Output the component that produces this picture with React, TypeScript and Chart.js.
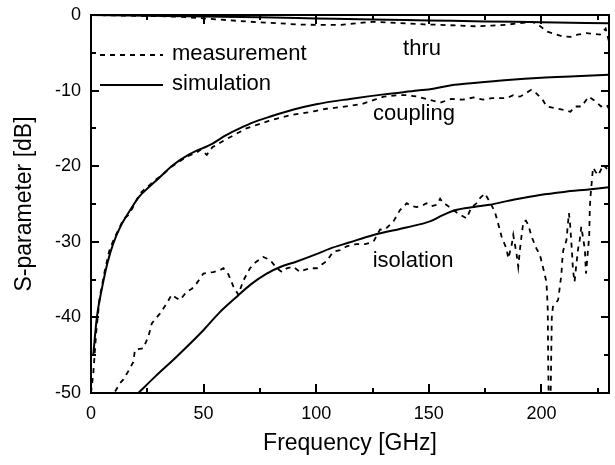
import React, { useEffect, useRef } from 'react';
import { Chart, registerables } from 'chart.js';

Chart.register(...registerables);

const FONT = '"Liberation Sans", Arial, Helvetica, sans-serif';

// ---- data (frequency in GHz, S-parameter in dB) ----
const thruSimFreq = [0, 25, 50, 75, 100, 125, 150, 175, 200, 230];
const thruSimDb = [0, -0.1, -0.2, -0.3, -0.45, -0.6, -0.72, -0.85, -0.95, -1.1];

const thruMeasFreq = [0, 10, 20, 30, 40, 50, 57, 66, 74, 84, 91, 100, 111, 118, 125, 132, 140, 148, 155, 163, 172, 178, 184, 190, 196, 199.5, 202.5, 206, 209, 213, 216, 220, 223, 226, 228.5, 230];
const thruMeasDb = [0, -0.05, -0.1, -0.15, -0.25, -0.45, -0.6, -0.8, -0.95, -1.1, -1.25, -1.3, -1.3, -1.1, -0.9, -1.0, -1.1, -1.25, -1.3, -1.4, -1.5, -1.4, -1.3, -1.1, -0.9, -1.5, -2.2, -2.5, -2.8, -2.9, -2.6, -2.4, -2.5, -2.6, -1.8, -3.5];

const couplingSimFreq = [1, 2.6, 4.7, 7.3, 9.9, 13.4, 17.4, 21.5, 24.5, 28.6, 36.6, 43.8, 54, 60, 66, 72, 80, 90, 100, 115, 130, 145, 152, 160, 170, 185, 200, 215, 230];
const couplingSimDb = [-45, -40, -36.4, -32.8, -30.2, -27.8, -25.8, -24, -23.1, -22, -19.8, -18.4, -17, -15.9, -15.0, -14.2, -13.4, -12.5, -11.8, -11.1, -10.5, -10.0, -9.75, -9.3, -9.0, -8.6, -8.3, -8.1, -7.9];

const couplingMeasFreq = [0, 1, 2.3, 3.8, 6.2, 8.3, 10.4, 12.4, 14.4, 16.4, 18.5, 20.5, 22.5, 25.6, 28.6, 31.6, 34.7, 38.7, 42.8, 46.8, 48.8, 51.4, 53.9, 59, 64, 69, 74, 79, 84, 89, 94, 99.5, 104.5, 110.6, 120, 126, 130, 137, 140, 145, 150, 155, 160, 165, 170, 174, 178, 184.5, 187.5, 190.5, 195.5, 197.5, 200.5, 202.3, 205.8, 210.8, 212.9, 214.8, 217.8, 221, 223, 225, 226.5, 229, 230];
const couplingMeasDb = [-50, -47.5, -42, -37.5, -33.7, -31, -29.5, -28.3, -27, -26.5, -25.5, -24.3, -23.4, -22.6, -21.8, -21.2, -20.3, -19.5, -18.7, -18.2, -17.8, -18.5, -17.5, -16.6, -15.8, -15.0, -14.5, -14.0, -13.6, -13.2, -13.0, -12.7, -12.4, -12.2, -11.8, -11.2, -10.8, -10.6, -10.6, -10.8, -11.2, -11.6, -11.1, -11.2, -10.9, -11.2, -11.0, -11.0, -10.6, -10.8, -9.9, -10.3, -11.2, -12.1, -12.3, -12.6, -12.8, -12.1, -12.1, -10.8, -11.2, -11.7, -12.1, -11.9, -12.4];

const isolationSimFreq = [21, 28.6, 38, 49.9, 56.9, 64.6, 71.1, 78, 84.3, 91.4, 99.5, 106.1, 114.6, 125.4, 140, 150.5, 156, 162, 170, 177, 188, 199.4, 210, 220, 230];
const isolationSimDb = [-50, -47.8, -45.2, -41.7, -39.4, -37.3, -35.6, -34.2, -33.3, -32.6, -31.7, -30.9, -30.1, -29.1, -28.1, -27.3, -26.5, -25.8, -25.4, -25.1, -24.4, -23.8, -23.4, -23.1, -22.8];

const isolationMeasFreq = [10.7, 12.9, 14.4, 16.4, 18.8, 19.5, 21, 23.2, 25.5, 27, 28.6, 30.6, 33.7, 35.8, 37.7, 39.5, 42.5, 44.8, 46.9, 49.9, 51.9, 54.3, 56.9, 58.8, 61, 63.2, 65.4, 67.7, 70.6, 73.1, 76.5, 79.5, 82.5, 84.8, 86.9, 89.8, 92.8, 94.9, 97.2, 100.3, 102.5, 104.5, 107.6, 110.6, 113.6, 117.7, 121.7, 125.4, 128.3, 130.8, 134.3, 137.2, 140.2, 142.5, 144.6, 147, 149, 151.2, 153.5, 155, 156.6, 157.8, 160.9, 163.2, 166.8, 168.8, 171.2, 172.8, 174.9, 176.8, 179.3, 180.8, 182.3, 183.5, 184.5, 185.3, 186.8, 187.5, 189, 189.7, 190.5, 191.3, 192, 193.1, 194.2, 195.6, 197.8, 199.3, 200.8, 202.2, 202.5, 202.8, 202.9, 203, 203.2, 203.6, 204.1, 204.4, 204.6, 205.1, 207.4, 208.2, 208.9, 209.2, 209.7, 211.1, 212.2, 212.7, 213.5, 214, 214.7, 215.5, 216.3, 217, 217.7, 218.5, 219.3, 219.8, 220.5, 221.2, 221.5, 221.9, 222.9, 224.2, 225.2, 226.4, 227.4, 229, 230];
const isolationMeasDb = [-49.8, -48.7, -48.2, -47.2, -45.9, -44.3, -44.2, -44.1, -42.5, -40.8, -40.2, -39.5, -38.1, -37, -37.4, -37.7, -36.6, -36.2, -35.5, -34.2, -34.1, -34, -33.8, -33.5, -34.3, -35.9, -37, -35.1, -33.5, -32.7, -32, -32.4, -33.5, -34, -33.5, -33.3, -34, -33.7, -33.5, -33.5, -33, -32.6, -31.3, -31.1, -30.6, -30.3, -30.3, -30, -28.4, -28.3, -27.3, -25.8, -24.9, -25.3, -25.4, -25.2, -24.9, -25.3, -25.1, -24.3, -25, -25.1, -25.8, -26.3, -26.9, -25.5, -24.9, -24.2, -23.6, -24.6, -26, -27.6, -29.3, -30.2, -30.9, -32.2, -30.4, -29.1, -31.7, -33.3, -30.9, -28.9, -27.3, -27.2, -27.8, -29.3, -30.9, -31.7, -33.5, -35.3, -36.8, -39, -42, -46, -50, -52, -50, -44, -40, -38.6, -37.7, -35.9, -34.2, -32.6, -31.1, -29.8, -26.2, -27.6, -31, -33.7, -35.3, -33, -30.9, -29.8, -28, -29.5, -31.1, -34.2, -31.7, -29.3, -25.4, -23.6, -20.2, -20.8, -21.2, -20.5, -19.8, -20.3, -20.5];

// ---- axes / labels ----
const xMajorTicks = [0, 50, 100, 150, 200];
const xMinorTicks = [25, 75, 125, 175, 225];
const yMajorTicks = [0, -10, -20, -30, -40, -50];
const yMinorTicks = [-5, -15, -25, -35, -45];
const xTitle = 'Frequency [GHz]';
const yTitle = 'S-parameter [dB]';
const legendLabels = ['measurement', 'simulation'];
const curveLabels = ['thru', 'coupling', 'isolation'];
const curveLabelFreq = [147, 143.4, 143];
const curveLabelDb = [-5.3, -13.9, -33.3];

const DASH = [5, 5];

function pts(f: number[], d: number[]) {
  return f.map((x, i) => ({ x, y: d[i] }));
}

const decorPlugin = {
  id: 'decor',
  afterDraw(chart: any) {
    const { ctx, chartArea: a, scales } = chart;
    const x = scales.x;
    const y = scales.y;
    ctx.save();
    ctx.fillStyle = '#000';
    ctx.strokeStyle = '#000';
    // curve labels
    ctx.font = `22px ${FONT}`;
    ctx.textAlign = 'center';
    ctx.textBaseline = 'alphabetic';
    curveLabels.forEach((t, i) => {
      ctx.fillText(t, x.getPixelForValue(curveLabelFreq[i]), y.getPixelForValue(curveLabelDb[i]));
    });
    // legend
    const lx0 = a.left + 9;
    const lx1 = a.left + 72;
    const rows = [a.top + 40, a.top + 70];
    ctx.lineWidth = 1.8;
    rows.forEach((ry, i) => {
      ctx.setLineDash(i === 0 ? DASH : []);
      ctx.beginPath();
      ctx.moveTo(lx0, ry);
      ctx.lineTo(lx1, ry);
      ctx.stroke();
    });
    ctx.setLineDash([]);
    ctx.textAlign = 'left';
    ctx.textBaseline = 'middle';
    legendLabels.forEach((t, i) => {
      ctx.fillText(t, lx1 + 9, rows[i] - 1);
    });
    // frame
    ctx.lineWidth = 2;
    ctx.strokeRect(a.left, a.top, a.right - a.left, a.bottom - a.top);
    const seg = (x1: number, y1: number, x2: number, y2: number) => {
      ctx.beginPath();
      ctx.moveTo(x1, y1);
      ctx.lineTo(x2, y2);
      ctx.stroke();
    };
    const xt = (vals: number[], len: number) =>
      vals.forEach((v) => {
        const p = Math.round(x.getPixelForValue(v));
        seg(p, a.bottom, p, a.bottom - len);
        seg(p, a.top, p, a.top + len);
      });
    const yt = (vals: number[], len: number) =>
      vals.forEach((v) => {
        const p = Math.round(y.getPixelForValue(v));
        seg(a.left, p, a.left + len, p);
        seg(a.right, p, a.right - len, p);
      });
    xt(xMajorTicks, 9);
    xt(xMinorTicks, 5);
    yt(yMajorTicks, 8);
    yt(yMinorTicks, 5);
    ctx.restore();
  },
};

export default function App() {
  const ref = useRef<HTMLCanvasElement | null>(null);
  useEffect(() => {
    document.body.style.margin = '0';
    const canvas = ref.current;
    if (!canvas) return;
    const meas = { borderColor: '#000', borderWidth: 1.8, borderDash: DASH, pointRadius: 0, tension: 0, fill: false };
    const sim = { borderColor: '#000', borderWidth: 2, pointRadius: 0, cubicInterpolationMode: 'monotone', fill: false };
    const chart = new Chart(canvas, {
      type: 'line',
      data: {
        datasets: [
          { label: 'thru measurement', data: pts(thruMeasFreq, thruMeasDb), ...meas },
          { label: 'thru simulation', data: pts(thruSimFreq, thruSimDb), ...sim },
          { label: 'coupling measurement', data: pts(couplingMeasFreq, couplingMeasDb), ...meas },
          { label: 'coupling simulation', data: pts(couplingSimFreq, couplingSimDb), ...sim },
          { label: 'isolation measurement', data: pts(isolationMeasFreq, isolationMeasDb), ...meas },
          { label: 'isolation simulation', data: pts(isolationSimFreq, isolationSimDb), ...sim },
        ] as any,
      },
      options: {
        responsive: false,
        animation: false,
        devicePixelRatio: 1,
        layout: { padding: { top: 15, right: 6, left: 0, bottom: 0 } },
        plugins: { legend: { display: false }, tooltip: { enabled: false } },
        scales: {
          x: {
            type: 'linear',
            min: 0,
            max: 230,
            grid: { display: false, drawTicks: false },
            border: { display: false },
            afterBuildTicks: (s: any) => {
              s.ticks = xMajorTicks.map((v) => ({ value: v }));
            },
            afterFit: (s: any) => {
              s.height = 72;
              s.paddingLeft = 0;
              s.paddingRight = 0;
            },
            ticks: {
              color: '#000',
              font: { family: FONT, size: 18 },
              padding: 10,
              maxRotation: 0,
              callback: (v: any) => String(v),
            },
            title: {
              display: true,
              text: xTitle,
              color: '#000',
              font: { family: FONT, size: 23 },
              padding: { top: 0, bottom: 8 },
            },
          },
          y: {
            type: 'linear',
            min: -50,
            max: 0,
            grid: { display: false, drawTicks: false },
            border: { display: false },
            afterBuildTicks: (s: any) => {
              s.ticks = yMajorTicks.map((v) => ({ value: v }));
            },
            afterFit: (s: any) => {
              s.width = 91;
              s.paddingTop = 0;
              s.paddingBottom = 0;
            },
            ticks: {
              color: '#000',
              font: { family: FONT, size: 18 },
              padding: 10,
              callback: (v: any) => String(v),
            },
            title: {
              display: true,
              text: yTitle,
              color: '#000',
              font: { family: FONT, size: 23 },
              padding: { top: 11, bottom: 0 },
            },
          },
        },
      } as any,
      plugins: [decorPlugin],
    });
    return () => chart.destroy();
  }, []);
  return (
    <div style={{ width: 615, height: 465 }}>
      <canvas ref={ref} width={615} height={465} style={{ display: 'block' }} />
    </div>
  );
}
